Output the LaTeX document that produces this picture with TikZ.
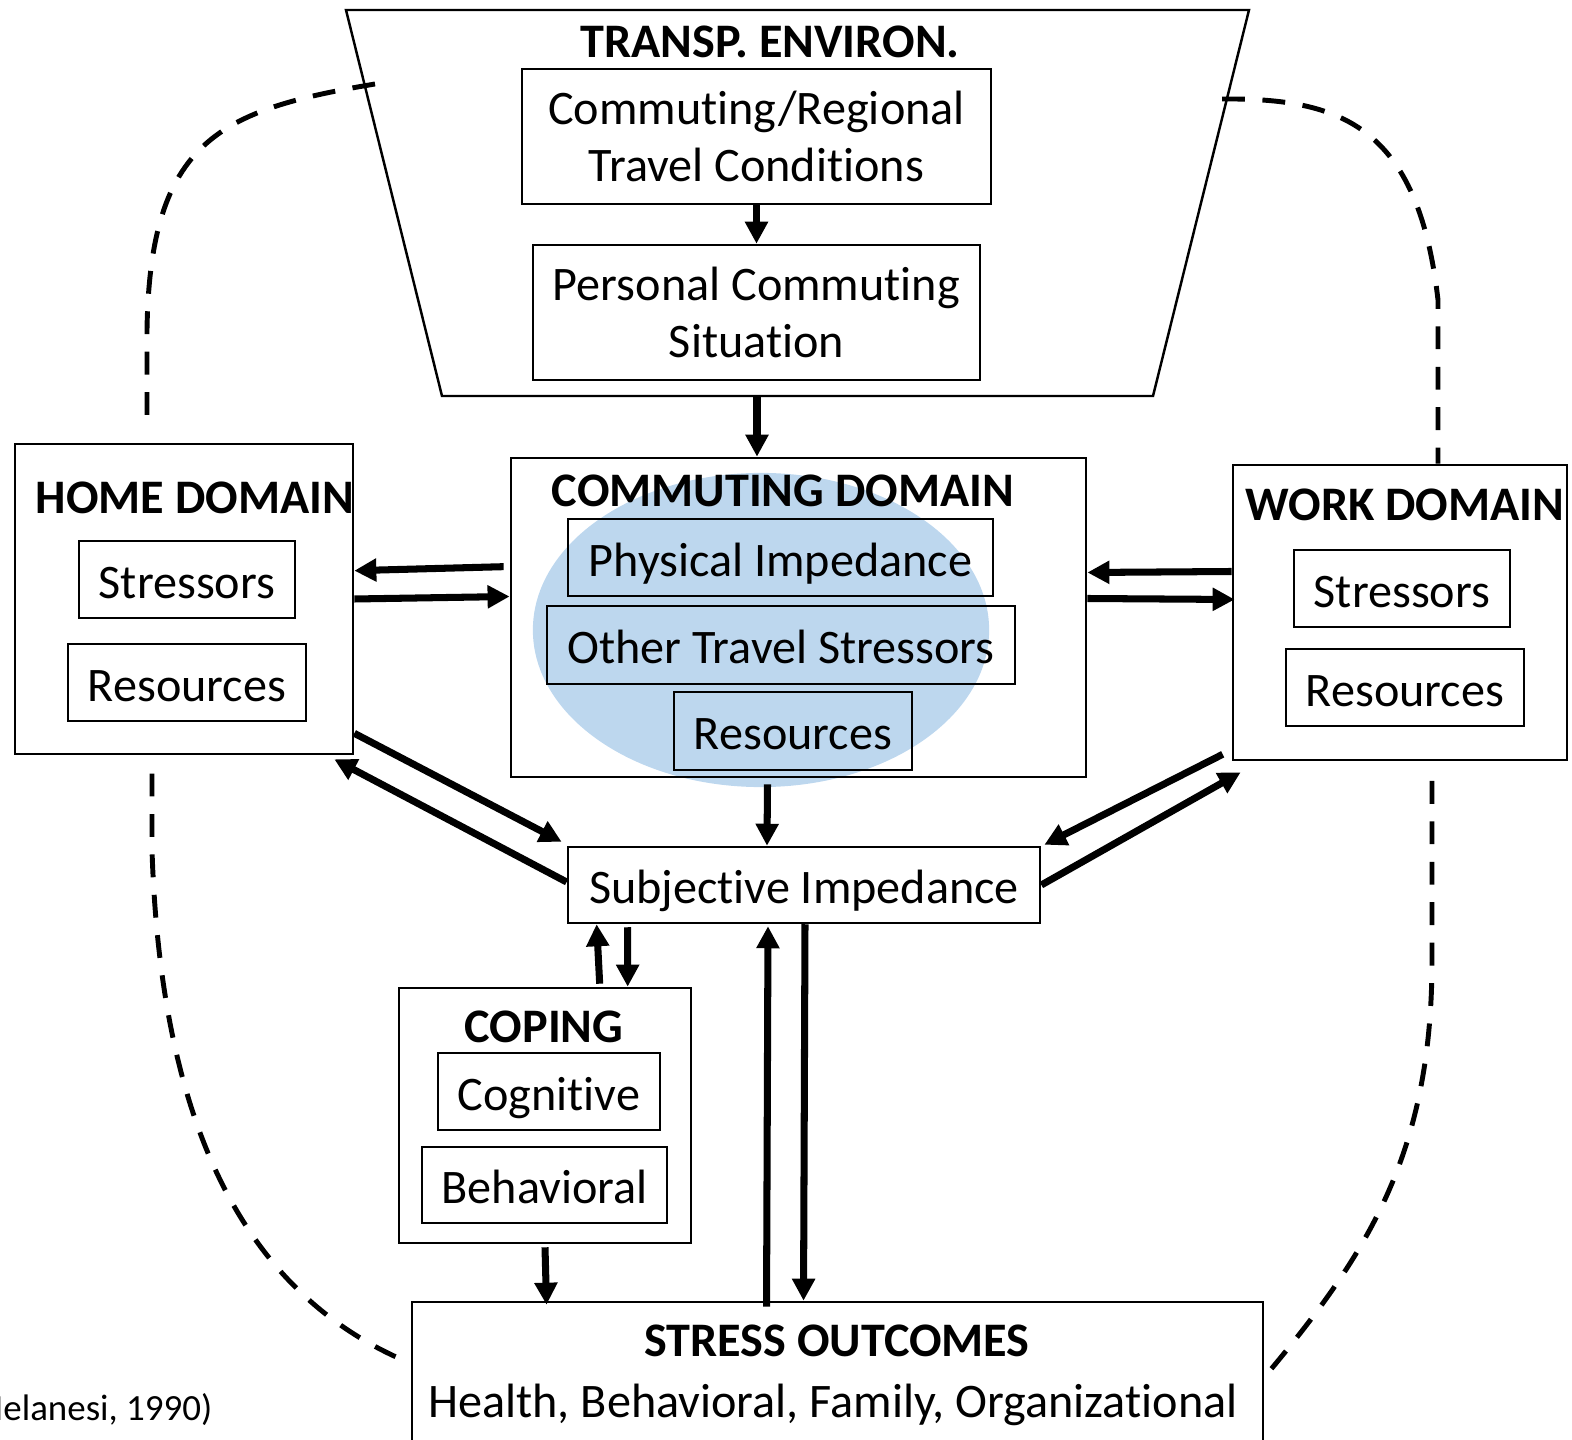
\documentclass[tikz,border=0pt]{standalone}
\usepackage{fontspec}
\setmainfont[Ligatures=NoCommon]{Carlito}
\usetikzlibrary{arrows.meta,calc,shapes.geometric}
\definecolor{blobblue}{RGB}{189,215,238}
\tikzset{
  box/.style={draw, line width=0.7pt, inner sep=0pt, align=center,
    font=\fontsize{13.7}{16.2}\selectfont},
  capbox/.style={box, text height=10.6pt, text depth=0pt},
  head/.style={inner sep=0pt, font=\bfseries\fontsize{13.7}{16}\selectfont},
  arr/.style={line width=2pt, -{Triangle[length=0.22cm,width=0.22cm]}},
  link/.style={line width=1.4pt, dash pattern=on 6.5pt off 5pt},
}

\begin{document}
\begin{tikzpicture}[x=0.01cm,y=-0.01cm]
\useasboundingbox (0,0) rectangle (1572,1440);

% transport environment funnel
\draw[line width=0.7pt] (346,10) % top left
    -- (1249,10) % top right
    -- (1153,396) % bottom right
    -- (442,396) % bottom left
    -- cycle;
\coordinate (funnelbase) at (757,396);
\coordinate (funnelleft) at (375,84);
\coordinate (funnelright) at (1222,99);
\node[head] (transtitle) at (770,42) {TRANSP. ENVIRON.};
\node[box, minimum width=4.69cm, minimum height=1.35cm] (cond) at (756.5,136.5) {Commuting/Regional\\Travel Conditions};
\node[box, minimum width=4.47cm, minimum height=1.35cm] (pers) at (756.5,312.5) {Personal Commuting\\Situation};

% commuting domain
\node[ellipse, fill=blobblue, minimum width=4.56cm, minimum height=3.14cm, inner sep=0pt] (blob) at (761,630) {};
\node[box, minimum width=5.75cm, minimum height=3.19cm] (comm) at (798.5,617.5) {};
\node[head] (commtitle) at (783,491) {COMMUTING DOMAIN};
\node[capbox, minimum width=4.25cm, minimum height=0.77cm] (phys) at (780.5,557.5) {Physical Impedance};
\node[capbox, minimum width=4.68cm, minimum height=0.78cm] (other) at (781,645) {Other Travel Stressors};
\node[capbox, minimum width=2.38cm, minimum height=0.78cm] (cres) at (793,731) {Resources};

% home domain
\node[box, minimum width=3.38cm, minimum height=3.10cm] (home) at (184,599) {};
\node[head] (hometitle) at (195,498) {HOME DOMAIN};
\node[capbox, minimum width=2.16cm, minimum height=0.77cm] (hstr) at (187,579.5) {Stressors};
\node[capbox, minimum width=2.38cm, minimum height=0.77cm] (hres) at (187,682.5) {Resources};

% work domain
\node[box, minimum width=3.34cm, minimum height=2.95cm] (work) at (1400,612.5) {};
\node[head] (worktitle) at (1405,505) {WORK DOMAIN};
\node[capbox, minimum width=2.16cm, minimum height=0.77cm] (wstr) at (1402,588.5) {Stressors};
\node[capbox, minimum width=2.38cm, minimum height=0.77cm] (wres) at (1405,687.5) {Resources};

% subjective impedance
\node[capbox, minimum width=4.72cm, minimum height=0.76cm] (subj) at (804,885) {Subjective Impedance};

% coping
\node[box, minimum width=2.92cm, minimum height=2.55cm] (coping) at (545,1115.5) {};
\node[head] (copingtitle) at (544,1027) {COPING};
\node[capbox, minimum width=2.22cm, minimum height=0.77cm] (cogn) at (549,1091.5) {Cognitive};
\node[capbox, minimum width=2.45cm, minimum height=0.76cm] (behav) at (544.5,1185) {Behavioral};

% stress outcomes
\node[box, minimum width=8.51cm, minimum height=2.0cm] (stress) at (837.5,1402) {};
\node[head] (stresstitle) at (837,1341) {STRESS OUTCOMES};
\node[inner sep=0pt, text height=10.6pt, text depth=0pt, font=\fontsize{13.7}{16}\selectfont] (stressbody) at (833,1399) {Health, Behavioral, Family, Organizational};

\node[inner sep=0pt, anchor=east, font=\fontsize{10.5}{12}\selectfont] (cite) at (213,1410) {Melanesi, 1990)};

% arrows
\draw[arr] (cond.south) -- (pers.north);
\draw[arr] (funnelbase) -- (funnelbase |- comm.north);
\draw[arr] ($(comm.north west)+(-6,110)$) -- ($(home.north east)+(0,128)$);
\draw[arr] (home.east) -- ($(comm.west)+(0,-21)$);
\draw[arr] ($(work.west)+(0,-41)$) -- ($(comm.east)+(0,-45)$);
\draw[arr] ($(comm.east)+(0,-19)$) -- ($(work.west)+(3,-13)$);
\draw[arr] ($(comm.south)+(-31,6)$) -- ($(subj.north)+(-37,0)$);
\draw[arr] ($(home.south east)+(0,-22)$) -- ($(subj.north west)+(-5,-4)$);
\draw[arr] ($(subj.west)+(0,-3)$) -- ($(home.south east)+(-20,4)$);
\draw[arr] ($(work.south west)+(-9,-7)$) -- ($(subj.north east)+(3,-1)$);
\draw[arr] (subj.east) -- ($(work.south west)+(9,11)$);
\draw[arr] ($(coping.north west)+(202,-3)$) -- ($(subj.south west)+(30,0)$);
\draw[arr] ($(subj.south west)+(61,3)$) -- ($(coping.north west)+(230,0)$);
\draw[arr] ($(coping.south)+(0,3)$) -- ($(stress.north west)+(136,4)$);
\draw[arr] ($(stress.north west)+(356,6)$) -- ($(subj.south)+(-36,2)$);
\draw[arr] ($(subj.south)+(1,0)$) -- ($(stress.north west)+(393,0)$);

% dashed links round the domains
\draw[link] (funnelleft) .. controls (220,110) and (150,140) .. (147,330) -- ($(home.north)+(-37,-16)$);
\draw[link] (funnelright) .. controls (1340,98) and (1418,125) .. (1438,300) -- ($(work.north)+(38,0)$);
\draw[link] ($(stress.north west)+(-15,56)$) .. controls (230,1280) and (160,1100) .. (152,850) -- ($(home.south)+(-32,3)$);
\draw[link] ($(stress.north east)+(7,68)$) .. controls (1370,1250) and (1432,1150) .. (1432,960) -- ($(work.south)+(32,5)$);
\end{tikzpicture}
\end{document}
